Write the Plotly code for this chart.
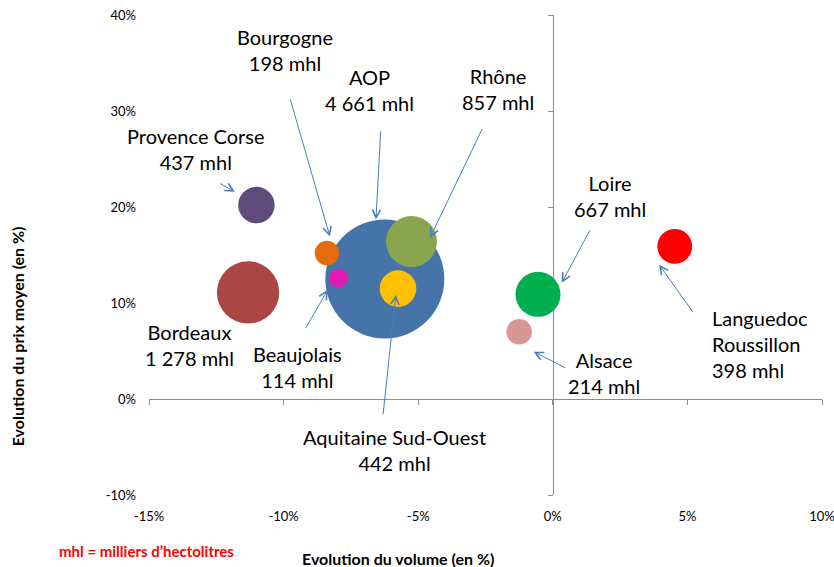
import plotly.graph_objects as go

# data
regions = ['AOP', 'Bordeaux', 'Rhône', 'Loire', 'Aquitaine Sud-Ouest', 'Provence Corse',
           'Languedoc Roussillon', 'Alsace', 'Bourgogne', 'Beaujolais']
volume_evol = [-6.24, -11.32, -5.25, -0.55, -5.75, -11.01, 4.53, -1.25, -8.39, -7.97]
price_evol = [12.5, 11.1, 16.4, 10.9, 11.5, 20.2, 15.9, 7.0, 15.2, 12.6]
volumes_mhl = [4661, 1278, 857, 667, 442, 437, 398, 214, 198, 114]
colors = ['#4674A9', '#AA4643', '#89A54E', '#00B050', '#FFC000', '#5F4A7B',
          '#FF0000', '#D99694', '#E46C0A', '#E619B4']
labels = ['AOP<br>4 661 mhl', 'Bordeaux<br>1 278 mhl', 'Rhône<br>857 mhl', 'Loire<br>667 mhl',
          'Aquitaine Sud-Ouest<br>442 mhl', 'Provence Corse<br>437 mhl',
          'Languedoc<br>Roussillon<br>398 mhl', 'Alsace<br>214 mhl', 'Bourgogne<br>198 mhl',
          'Beaujolais<br>114 mhl']

x_ticks = [-15, -10, -5, 0, 5, 10]
x_ticktext = ['-15%', '-10%', '-5%', '0%', '5%', '10%']
y_ticks = [-10, 0, 10, 20, 30, 40]
y_ticktext = ['-10%', '0%', '10%', '20%', '30%', '40%']

# label placement: (text x, text y, anchor, arrow tail x, tail y, head x, head y)
placement = {
    'AOP': (-6.80, 32.18, 'center', -6.39, 28.05, -6.57, 18.7),
    'Bordeaux': (-13.49, 5.64, 'center', None, None, None, None),
    'Rhône': (-2.04, 32.33, 'center', -2.60, 28.26, -4.56, 16.8),
    'Loire': (2.13, 21.14, 'center', 1.41, 17.74, 0.33, 12.1),
    'Aquitaine Sud-Ouest': (-5.88, -5.31, 'center', -6.31, -1.74, -5.83, 10.86),
    'Provence Corse': (-13.26, 26.02, 'center', -12.41, 22.53, -11.81, 21.59),
    'Languedoc Roussillon': (5.85, 5.77, 'left', 5.25, 8.89, 3.95, 13.99),
    'Alsace': (1.90, 2.7, 'center', 0.52, 3.16, -0.71, 4.93),
    'Bourgogne': (-9.96, 36.33, 'center', -9.77, 31.39, -8.28, 16.92),
    'Beaujolais': (-9.5, 3.36, 'center', -9.21, 7.22, -8.36, 11.39),
}

FONT = 'Lato'
ARROW = '#4A7EBB'
AXIS = '#8C8C8C'

fig = go.Figure()
fig.add_trace(go.Scatter(
    x=volume_evol, y=price_evol,
    mode='markers',
    marker=dict(
        size=volumes_mhl,
        sizemode='area',
        sizeref=2. * max(volumes_mhl) / (119 ** 2),
        color=colors,
        opacity=1,
        line=dict(width=0),
    ),
    text=regions,
    hoverinfo='text',
    showlegend=False,
))
# invisible trace so the zero-crossing axes get drawn
fig.add_trace(go.Scatter(
    x=volume_evol, y=price_evol, xaxis='x2', yaxis='y2',
    mode='markers', marker=dict(size=1, opacity=0),
    hoverinfo='skip', showlegend=False,
))

annotations = []
for name, label in zip(regions, labels):
    tx, ty, anchor, ax, ay, hx, hy = placement[name]
    annotations.append(dict(
        x=tx, y=ty, xref='x', yref='y', text=label, showarrow=False,
        xanchor=anchor, yanchor='middle', align=anchor,
        font=dict(family=FONT, size=20, color='black'),
    ))
    if ax is not None:
        annotations.append(dict(
            x=hx, y=hy, ax=ax, ay=ay, xref='x', yref='y', axref='x', ayref='y',
            text='', showarrow=True, arrowhead=5, arrowsize=1.6, arrowwidth=1,
            arrowcolor=ARROW, standoff=0, startstandoff=0,
        ))

annotations += [
    dict(x=0.3695, y=-0.133, xref='paper', yref='paper', text='<b>Evolution du volume (en %)</b>',
         showarrow=False, xanchor='center', yanchor='middle',
         font=dict(family=FONT, size=16, color='black')),
    dict(x=-0.195, y=0.33, xref='paper', yref='paper', text='<b>Evolution du prix moyen (en %)</b>',
         showarrow=False, xanchor='center', yanchor='middle', textangle=-90,
         font=dict(family=FONT, size=16, color='black')),
    dict(x=-0.137, y=-0.116, xref='paper', yref='paper', text="<b>mhl = milliers d’hectolitres</b>",
         showarrow=False, xanchor='left', yanchor='middle',
         font=dict(family=FONT, size=15, color='#FF0000')),
]

fig.update_layout(
    width=834, height=567,
    margin=dict(l=149, r=12, t=15, b=72),
    plot_bgcolor='white',
    paper_bgcolor='white',
    font=dict(family=FONT, size=13, color='black'),
    annotations=annotations,
    xaxis=dict(
        range=[-15, 10], tickvals=x_ticks, ticktext=x_ticktext,
        showgrid=False, zeroline=False, showline=False, ticks='',
        ticklabelstandoff=12, ticklabeloverflow='allow', automargin=False,
    ),
    yaxis=dict(
        range=[-10, 40], tickvals=y_ticks, ticktext=y_ticktext,
        showgrid=False, zeroline=False, showline=False, ticks='',
        ticklabelstandoff=12, ticklabeloverflow='allow', automargin=False,
    ),
    # axis lines crossing at zero
    xaxis2=dict(
        overlaying='x', matches='x', anchor='free', position=0.2,
        tickvals=x_ticks, showticklabels=False, showline=True, linecolor=AXIS,
        linewidth=1, ticks='outside', ticklen=5, tickcolor=AXIS, showgrid=False,
        zeroline=False, layer='below traces', automargin=False,
    ),
    yaxis2=dict(
        overlaying='y', matches='y', anchor='free', position=0.6,
        tickvals=y_ticks, showticklabels=False, showline=True, linecolor=AXIS,
        linewidth=1, ticks='outside', ticklen=5, tickcolor=AXIS, showgrid=False,
        zeroline=False, layer='below traces', automargin=False,
    ),
)
fig.write_html('out.html', config={'displayModeBar': False},
               post_script="document.body.style.margin='0';")
